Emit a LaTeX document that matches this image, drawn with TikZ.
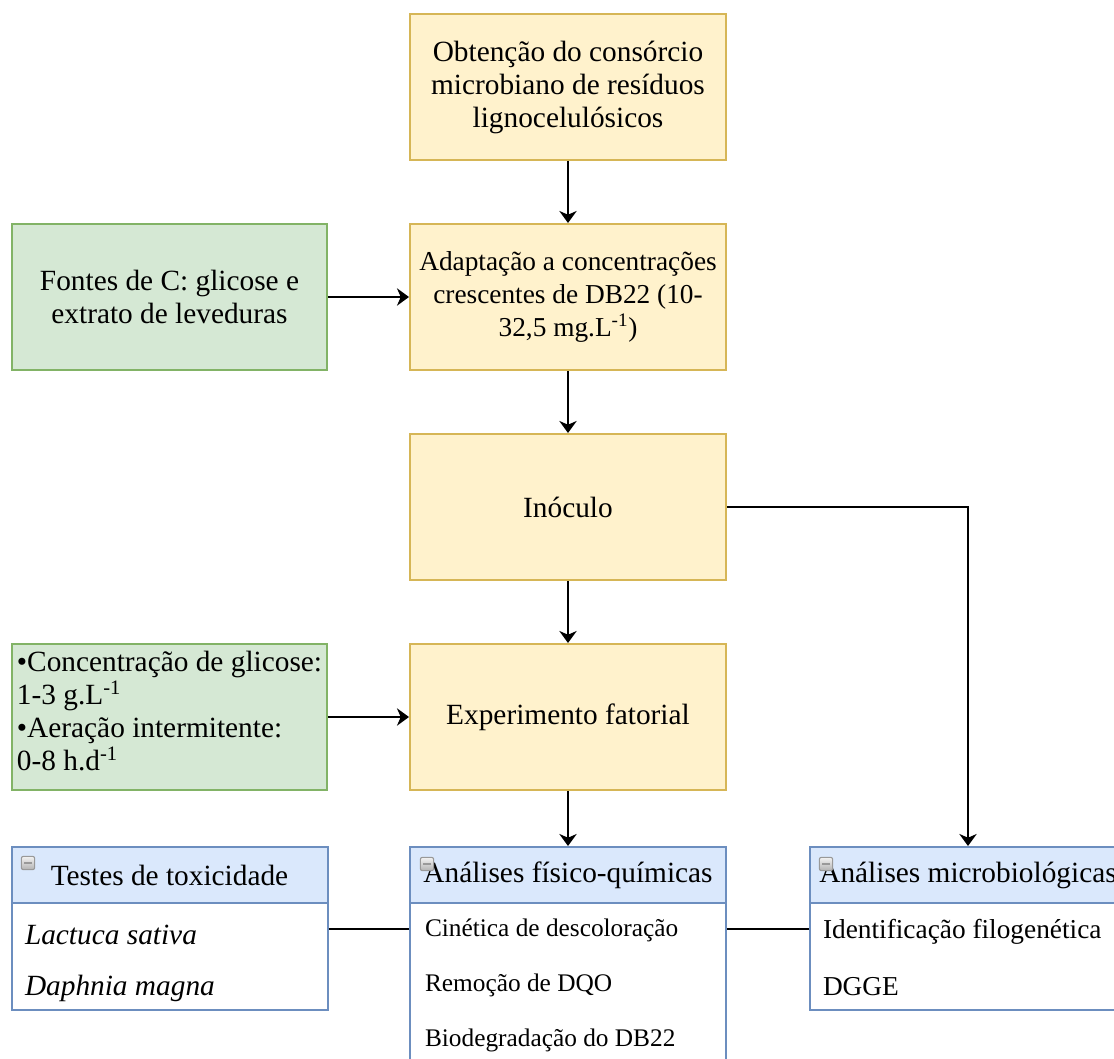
\documentclass[tikz,border=0pt]{standalone}
\usepackage{fontspec}
\setmainfont{Liberation Serif}
\usetikzlibrary{arrows.meta}

\definecolor{ylwfill}{HTML}{FFF2CC}
\definecolor{ylwline}{HTML}{D6B656}
\definecolor{grnfill}{HTML}{D5E8D4}
\definecolor{grnline}{HTML}{82B366}
\definecolor{bluefill}{HTML}{DAE8FC}
\definecolor{blueline}{HTML}{6C8EBF}

\tikzset{every picture/.style={line width=1.5pt}}
\tikzset{
  bigtxt/.style={font=\fontsize{22}{24.75}\selectfont},
  stagebox/.style={bigtxt, draw=ylwline, fill=ylwfill, align=center,
    minimum width=237pt, minimum height=109.5pt, inner sep=0pt},
  inputbox/.style={bigtxt, draw=grnline, fill=grnfill,
    minimum width=236.25pt, minimum height=109.5pt, inner sep=0pt},
  lane/.style={draw=blueline, fill=white, minimum width=237pt, inner sep=0pt},
  lanehead/.style={bigtxt, draw=blueline, fill=bluefill,
    minimum width=237pt, minimum height=42pt, inner sep=0pt},
  laneitem/.style={anchor=west, inner sep=0pt},
  minusicon/.style={draw=gray!80, line width=0.8pt, rounded corners=1.5pt,
    top color=gray!10, bottom color=gray!60, minimum size=10pt, inner sep=0pt,
    path picture={\draw[line width=1.4pt] ([xshift=2pt]path picture bounding box.west) -- ([xshift=-2pt]path picture bounding box.east);}},
  flow/.style={-{Stealth[length=9pt, width=13pt, inset=2.8pt]}},
}

\begin{document}
\begin{tikzpicture}[x=0.75pt,y=0.75pt,yscale=-1]
\useasboundingbox (0,0) rectangle (1114,1059);

%Shape: Rectangle [stages]
\node[stagebox] (obt) at (568,87) {Obtenção do consórcio\\microbiano de resíduos\\lignocelulósicos};
\node[stagebox, font=\fontsize{20.5}{24.75}\selectfont] (adapt) at (568,297) {Adaptação a concentrações\\crescentes de DB22 (10-\\32,5 mg.L\textsuperscript{-1})};
\node[stagebox] (ino) at (568,507) {Inóculo};
\node[stagebox] (exp) at (568,717) {Experimento fatorial};

%Shape: Rectangle [inputs]
\node[inputbox, align=center] (fontes) at (169.5,297) {Fontes de C: glicose e\\extrato de leveduras};
\node[inputbox, align=left] (fatores) at (169.5,717) {};
\node[bigtxt, align=left, inner sep=0pt] (fatorestxt) at (169.5,711) {•Concentração de glicose:\\1-3 g.L\textsuperscript{-1}\\•Aeração intermitente:\\0-8 h.d\textsuperscript{-1}};

%Swimlane [toxicidade]
\node[lane, minimum height=122.25pt] (tox) at (169.5,928.5) {};
\node[lanehead, anchor=north] (toxhead) at (tox.north) {Testes de toxicidade};
\node[minusicon] (toxicon) at (28,863) {};
\node[laneitem, bigtxt] (tox1) at (24,935) {\textit{Lactuca sativa}};
\node[laneitem, bigtxt] (tox2) at (24,988) {\textit{Daphnia magna}};

%Swimlane [fisico-quimicas]
\node[lane, minimum height=164.25pt] (fq) at (568,956.5) {};
\node[lanehead, anchor=north] (fqhead) at (fq.north) {Análises físico-químicas};
\node[minusicon] (fqicon) at (427,864) {};
\node[laneitem, font=\fontsize{19}{22}\selectfont] (fq1) at (424,930) {Cinética de descoloração};
\node[laneitem, font=\fontsize{19}{22}\selectfont] (fq2) at (424,985) {Remoção de DQO};
\node[laneitem, font=\fontsize{19}{22}\selectfont] (fq3) at (424,1040) {Biodegradação do DB22};

%Swimlane [microbiologicas]
\node[lane, minimum height=122.25pt] (mic) at (968,928.5) {};
\node[lanehead, anchor=north] (michead) at (mic.north) {Análises microbiológicas};
\node[minusicon] (micicon) at (826,864) {};
\node[laneitem, font=\fontsize{20.5}{24}\selectfont] (mic1) at (822,932) {Identificação filogenética};
\node[laneitem, font=\fontsize{20.5}{24}\selectfont] (mic2) at (822,987) {DGGE};

%Arrows
\draw[flow] (obt) -- (adapt);
\draw[flow] (adapt) -- (ino);
\draw[flow] (ino) -- (exp);
\draw[flow] (exp) -- (fq.north);
\draw[flow] (fontes) -- (adapt);
\draw[flow] (fatores) -- (exp);
\draw[flow] (ino.east) -| (mic.north);

%Straight Lines
\draw (tox.east) -- (tox.east -| fq.west);
\draw (mic.west) -- (mic.west -| fq.east);

\end{tikzpicture}
\end{document}
